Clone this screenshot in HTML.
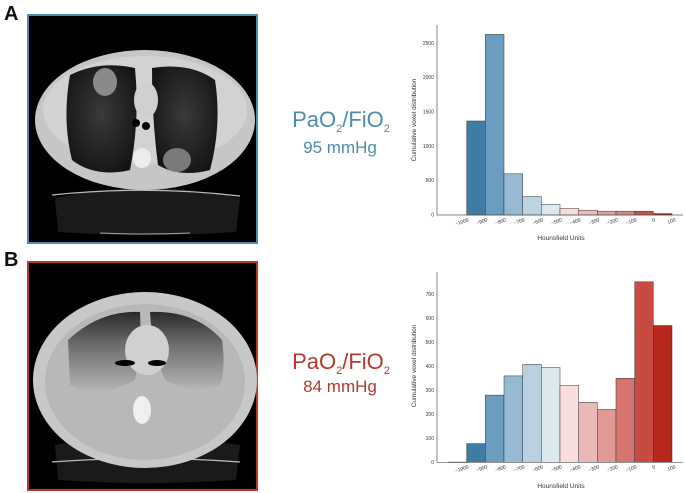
<!DOCTYPE html>
<html><head><meta charset="utf-8"><style>
html,body{margin:0;padding:0;background:#fff;}
svg{display:block;font-family:"Liberation Sans",sans-serif;}
</style></head><body>
<svg width="685" height="493" viewBox="0 0 685 493" xmlns="http://www.w3.org/2000/svg">
<defs>
<radialGradient id="lg" cx="50%" cy="45%" r="60%"><stop offset="0" stop-color="#3a3a3a"/><stop offset="1" stop-color="#141414"/></radialGradient>
<linearGradient id="lb" x1="0" y1="0" x2="0" y2="1"><stop offset="0" stop-color="#2a2a2a"/><stop offset="0.4" stop-color="#6a6a6a"/><stop offset="1" stop-color="#b5b5b5"/></linearGradient>
</defs>
<text x="4" y="20" font-size="20" font-weight="bold" fill="#111">A</text>
<text x="4" y="266" font-size="20" font-weight="bold" fill="#111">B</text>

<!-- Panel A -->
<rect x="28" y="15" width="229" height="228" fill="#000" stroke="#4f8bab" stroke-width="2"/>
<path d="M55 198 Q145 178 240 198 L236 232 Q145 238 58 232 Z" fill="#1a1a1a"/>
<path d="M52 195 Q145 185 240 196" stroke="#bbb" stroke-width="1.2" fill="none"/>
<path d="M100 233 Q145 235 190 233" stroke="#aaa" stroke-width="1" fill="none"/>
<ellipse cx="145" cy="120" rx="110" ry="70" fill="#c6c6c6"/>
<ellipse cx="145" cy="110" rx="102" ry="54" fill="#d2d2d2"/>
<path d="M70 75 Q100 60 135 68 Q140 120 130 170 Q95 178 72 160 Q62 120 70 75 Z" fill="url(#lg)"/>
<path d="M152 68 Q190 62 215 80 Q222 125 210 170 Q180 178 158 165 Q152 120 152 68 Z" fill="url(#lg)"/>
<ellipse cx="105" cy="82" rx="12" ry="14" fill="#8a8a8a"/>
<ellipse cx="177" cy="160" rx="14" ry="12" fill="#7a7a7a"/>
<ellipse cx="146" cy="100" rx="12" ry="18" fill="#cfcfcf"/>
<ellipse cx="136" cy="123" rx="4" ry="4" fill="#000"/><ellipse cx="146" cy="126" rx="4" ry="4" fill="#000"/>
<ellipse cx="142" cy="158" rx="9" ry="10" fill="#ececec"/>

<!-- Panel B -->
<rect x="28" y="262" width="229" height="228" fill="#000" stroke="#b3392b" stroke-width="2"/>
<path d="M55 445 Q145 430 240 445 L236 480 Q145 486 58 480 Z" fill="#1a1a1a"/>
<path d="M52 462 Q145 455 240 462" stroke="#bbb" stroke-width="1.2" fill="none"/>
<ellipse cx="145" cy="380" rx="112" ry="88" fill="#c8c8c8"/>
<ellipse cx="145" cy="382" rx="100" ry="78" fill="#b8b8b8"/>
<path d="M68 340 Q100 310 140 312 Q142 350 135 380 Q100 400 70 385 Z" fill="url(#lb)"/>
<path d="M150 312 Q195 310 222 340 Q226 370 220 385 Q190 395 165 380 Q152 350 150 312 Z" fill="url(#lb)"/>
<ellipse cx="147" cy="350" rx="22" ry="25" fill="#d0d0d0"/>
<ellipse cx="125" cy="363" rx="10" ry="3" fill="#000"/><ellipse cx="157" cy="363" rx="9" ry="3" fill="#000"/>
<ellipse cx="142" cy="410" rx="9" ry="14" fill="#efefef"/>

<!-- Texts -->
<g font-family="'Liberation Sans',sans-serif" text-anchor="middle">
<text x="341" y="127" font-size="22" fill="#4f8bab">PaO<tspan font-size="11" dy="5">2</tspan><tspan dy="-5">/FiO</tspan><tspan font-size="11" dy="5">2</tspan></text>
<text x="340" y="153" font-size="17" fill="#4f8bab">95 mmHg</text>
<text x="341" y="369" font-size="22" fill="#b3392b">PaO<tspan font-size="11" dy="5">2</tspan><tspan dy="-5">/FiO</tspan><tspan font-size="11" dy="5">2</tspan></text>
<text x="340" y="392" font-size="17" fill="#b3392b">84 mmHg</text>
</g>

<!-- Chart A -->
<g stroke="#333" stroke-width="0.5">
<rect x="466.7" y="121.0" width="18.6" height="94.0" fill="#3f7ca3"/>
<rect x="485.3" y="34.4" width="18.7" height="180.6" fill="#6a9dbf"/>
<rect x="504" y="173.8" width="18.7" height="41.2" fill="#95b9d2"/>
<rect x="522.7" y="196.5" width="18.6" height="18.5" fill="#bcd4e2"/>
<rect x="541.3" y="204.4" width="18.7" height="10.6" fill="#dce9ef"/>
<rect x="560" y="208.5" width="18.7" height="6.5" fill="#f8dede"/>
<rect x="578.7" y="210.2" width="18.6" height="4.8" fill="#eebcbb"/>
<rect x="597.3" y="211.2" width="18.7" height="3.8" fill="#e0a3a0"/>
<rect x="616" y="211.2" width="18.7" height="3.8" fill="#d48b86"/>
<rect x="634.7" y="211.2" width="18.6" height="3.8" fill="#c0564d"/>
<rect x="653.3" y="213.6" width="18.7" height="1.4" fill="#9b2a20"/>
</g>
<g stroke="#555" stroke-width="0.7" fill="none">
<path d="M437 25 V215 H683"/>
</g>
<g font-size="5" fill="#333" text-anchor="end">
<text x="434" y="216.5">0</text><text x="434" y="182.2">500</text><text x="434" y="147.8">1000</text><text x="434" y="113.5">1500</text><text x="434" y="79.2">2000</text><text x="434" y="44.8">2500</text>
</g>
<g font-size="5" fill="#333" text-anchor="end">
<text transform="translate(469,221) rotate(-20)">−1000</text>
<text transform="translate(487.6,221) rotate(-20)">−900</text>
<text transform="translate(506.3,221) rotate(-20)">−800</text>
<text transform="translate(525,221) rotate(-20)">−700</text>
<text transform="translate(543.6,221) rotate(-20)">−600</text>
<text transform="translate(562.3,221) rotate(-20)">−500</text>
<text transform="translate(581,221) rotate(-20)">−400</text>
<text transform="translate(599.6,221) rotate(-20)">−300</text>
<text transform="translate(618.3,221) rotate(-20)">−200</text>
<text transform="translate(637,221) rotate(-20)">−100</text>
<text transform="translate(655.6,221) rotate(-20)">0</text>
<text transform="translate(676,221) rotate(-20)">100</text>
</g>
<text x="561" y="240" font-size="6.5" fill="#333" text-anchor="middle">Hounsfield Units</text>
<text transform="translate(416,120) rotate(-90)" font-size="6.5" fill="#333" text-anchor="middle">Cumulative voxel distribution</text>

<!-- Chart B -->
<g stroke="#333" stroke-width="0.5">
<rect x="466.7" y="443.6" width="18.6" height="18.7" fill="#3f7ca3"/>
<rect x="485.3" y="395.1" width="18.7" height="67.2" fill="#6a9dbf"/>
<rect x="504" y="375.9" width="18.7" height="86.4" fill="#95b9d2"/>
<rect x="522.7" y="364.4" width="18.6" height="97.9" fill="#b8d0df"/>
<rect x="541.3" y="367.5" width="18.7" height="94.8" fill="#dce9ef"/>
<rect x="560" y="385.5" width="18.7" height="76.8" fill="#f9dedd"/>
<rect x="578.7" y="402.3" width="18.6" height="60" fill="#eab8b6"/>
<rect x="597.3" y="409.5" width="18.7" height="52.8" fill="#e19995"/>
<rect x="616" y="378.3" width="18.7" height="84" fill="#d6736c"/>
<rect x="634.7" y="281.8" width="18.6" height="180.5" fill="#c84b42"/>
<rect x="653.3" y="325.5" width="18.7" height="136.8" fill="#b8281e"/>
</g>
<path d="M448 462.3 H467" stroke="#333" stroke-width="0.8"/>
<path d="M437 272 V462.3 H683" stroke="#555" stroke-width="0.7" fill="none"/>
<g font-size="5" fill="#333" text-anchor="end">
<text x="434" y="464">0</text><text x="434" y="440">100</text><text x="434" y="416">200</text><text x="434" y="392">300</text><text x="434" y="368">400</text><text x="434" y="344">500</text><text x="434" y="320">600</text><text x="434" y="296">700</text>
</g>
<g font-size="5" fill="#333" text-anchor="end">
<text transform="translate(469,468) rotate(-20)">−1000</text>
<text transform="translate(487.6,468) rotate(-20)">−900</text>
<text transform="translate(506.3,468) rotate(-20)">−800</text>
<text transform="translate(525,468) rotate(-20)">−700</text>
<text transform="translate(543.6,468) rotate(-20)">−600</text>
<text transform="translate(562.3,468) rotate(-20)">−500</text>
<text transform="translate(581,468) rotate(-20)">−400</text>
<text transform="translate(599.6,468) rotate(-20)">−300</text>
<text transform="translate(618.3,468) rotate(-20)">−200</text>
<text transform="translate(637,468) rotate(-20)">−100</text>
<text transform="translate(655.6,468) rotate(-20)">0</text>
<text transform="translate(676,468) rotate(-20)">100</text>
</g>
<text x="561" y="488" font-size="6.5" fill="#333" text-anchor="middle">Hounsfield Units</text>
<text transform="translate(416,366) rotate(-90)" font-size="6.5" fill="#333" text-anchor="middle">Cumulative voxel distribution</text>
</svg>
</body></html>
